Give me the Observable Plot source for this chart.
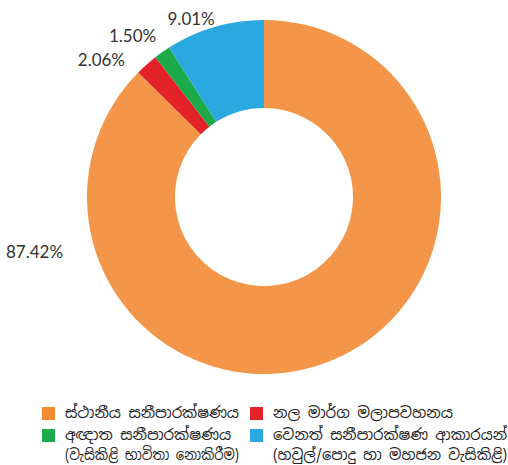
<!DOCTYPE html>
<html>
<head>
<meta charset="utf-8">
<script src="https://cdn.jsdelivr.net/npm/d3@7"></script>
<script src="https://cdn.jsdelivr.net/npm/@observablehq/plot@0.6"></script>
<style>
  html, body { margin: 0; padding: 0; background: #fff; }
  #wrap { position: relative; width: 508px; height: 465px; overflow: hidden; }
  #chart { position: absolute; left: 0; top: 0; }
  .legend { position: absolute; left: 0; top: 0; width: 508px; height: 465px;
    font-family: "Noto Sans Sinhala", "Iskoola Pota", "Noto Sans", "DejaVu Sans", sans-serif;
    font-size: 15px; color: #222; }
  .item { position: absolute; display: flex; align-items: flex-start; }
  .sw { width: 13px; height: 13px; margin-top: 4px; margin-right: 10px; flex: none; }
  .txt { line-height: 20px; white-space: nowrap; }
  .txt div { transform-origin: 0 50%; width: max-content; }
</style>
</head>
<body>
<div id="wrap">
  <div id="chart"></div>
  <div class="legend" id="legend"></div>
</div>
<script>
// ---- data ----
const categories = [
  "ස්ථානීය සනීපාරක්ෂණය",
  "නල මාර්ග මලාපවහනය",
  "අඥාත සනීපාරක්ෂණය (වැසිකිළි භාවිතා නොකිරීම)",
  "වෙනත් සනීපාරක්ෂණ ආකාරයන් (හවුල්/පොදු හා මහජන වැසිකිළි)"
];
const legendLines = [
  ["ස්ථානීය සනීපාරක්ෂණය"],
  ["නල මාර්ග මලාපවහනය"],
  ["අඥාත සනීපාරක්ෂණය", "(වැසිකිළි භාවිතා නොකිරීම)"],
  ["වෙනත් සනීපාරක්ෂණ ආකාරයන්", "(හවුල්/පොදු හා මහජන වැසිකිළි)"]
];
const values = [87.42, 2.06, 1.50, 9.01];
const labels = ["87.42%", "2.06%", "1.50%", "9.01%"];
const colors = ["#F4964A", "#E32228", "#1DAA4A", "#2AA8E0"];
const swatchColors = ["#F58B31", "#E32228", "#1DAA4A", "#2AA8E0"];

// ---- build ----
const data = categories.map((c, i) => ({category: c, value: values[i], label: labels[i]}));
const color = Plot.scale({color: {type: "ordinal", domain: categories, range: colors}});
const innerRatio = 0.503;
const arcs = d3.pie().sort(null).value(d => d.value)(data);

// label placement (layout): angle (deg, clockwise from top) and radius (fraction of outer radius)
const labelPlacement = [[256.5, 1.336], [310, 1.203], [320.7, 1.177], [337.6, 1.088]];
const labelData = data.map((d, i) => {
  const a = labelPlacement[i][0] * Math.PI / 180, r = labelPlacement[i][1];
  return {label: d.label, lx: r * Math.sin(a), ly: r * Math.cos(a)};
});

function donut(index, scales) {
  const {x, y} = scales;
  const cx = x(0), cy = y(0), r = x(1) - x(0);
  const arc = d3.arc().innerRadius(r * innerRatio).outerRadius(r);
  const g = d3.create("svg:g").attr("transform", `translate(${cx},${cy})`);
  g.selectAll("path").data(arcs).join("path")
    .attr("d", arc)
    .attr("fill", d => color.apply(d.data.category));
  return g.node();
}

const plot = Plot.plot({
  width: 508,
  height: 390,
  margin: 0,
  x: {domain: [-1, 1], range: [87, 441], axis: null},
  y: {domain: [-1, 1], range: [374, 20], axis: null},
  style: {background: "transparent"},
  marks: [
    donut,
    Plot.text(labelData, {
      x: "lx", y: "ly", text: "label",
      fontFamily: "Lato, 'Open Sans', sans-serif",
      fontSize: 17, fill: "#333"
    })
  ]
});
document.getElementById("chart").appendChild(plot);

// ---- legend ----
const legendPos = [
  {left: 42, top: 403, maxW: 174},
  {left: 250, top: 403, maxW: 190},
  {left: 42, top: 425, maxW: 174},
  {left: 250, top: 425, maxW: 234}
];
const legend = d3.select("#legend");
legendLines.forEach((lines, i) => {
  const p = legendPos[i];
  const item = legend.append("div").attr("class", "item")
    .style("left", p.left + "px").style("top", p.top + "px");
  item.append("div").attr("class", "sw").style("background", swatchColors[i]);
  const t = item.append("div").attr("class", "txt");
  lines.forEach(l => {
    const line = t.append("div").text(l);
    const w = line.node().getBoundingClientRect().width;
    if (w > p.maxW) line.style("transform", `scaleX(${p.maxW / w})`);
  });
});
</script>
</body>
</html>
